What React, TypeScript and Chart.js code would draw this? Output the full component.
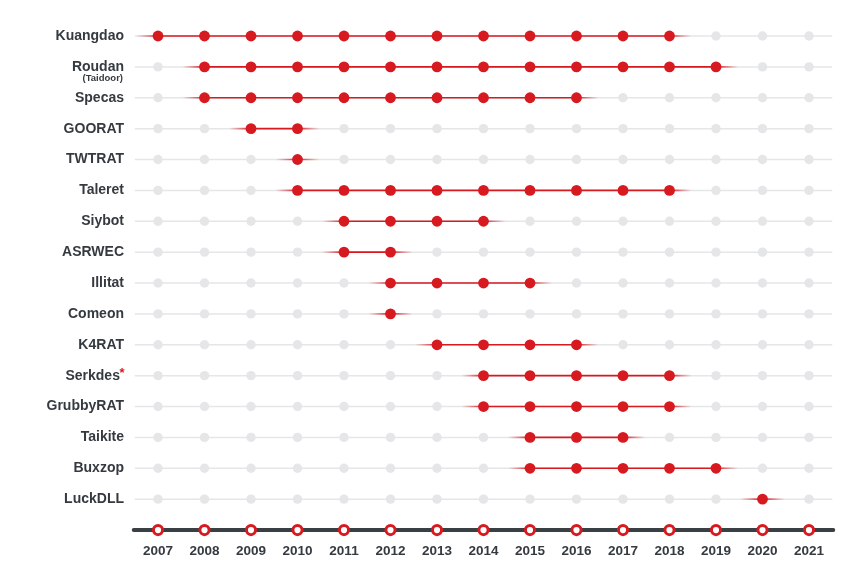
import { useEffect, useRef } from 'react';
import { Chart, registerables } from 'chart.js';

Chart.register(...registerables);

const families = ['Kuangdao', 'Roudan', 'Specas', 'GOORAT', 'TWTRAT', 'Taleret', 'Siybot', 'ASRWEC', 'Illitat', 'Comeon', 'K4RAT', 'Serkdes', 'GrubbyRAT', 'Taikite', 'Buxzop', 'LuckDLL'];
const familyNotes = ['', '(Taidoor)', '', '', '', '', '', '', '', '', '', '', '', '', '', ''];
const familyFlags = [false, false, false, false, false, false, false, false, false, false, false, true, false, false, false, false];
const years = [2007, 2008, 2009, 2010, 2011, 2012, 2013, 2014, 2015, 2016, 2017, 2018, 2019, 2020, 2021];
const activeYears: number[][] = [
  [2007, 2008, 2009, 2010, 2011, 2012, 2013, 2014, 2015, 2016, 2017, 2018],
  [2008, 2009, 2010, 2011, 2012, 2013, 2014, 2015, 2016, 2017, 2018, 2019],
  [2008, 2009, 2010, 2011, 2012, 2013, 2014, 2015, 2016],
  [2009, 2010],
  [2010],
  [2010, 2011, 2012, 2013, 2014, 2015, 2016, 2017, 2018],
  [2011, 2012, 2013, 2014],
  [2011, 2012],
  [2012, 2013, 2014, 2015],
  [2012],
  [2013, 2014, 2015, 2016],
  [2014, 2015, 2016, 2017, 2018],
  [2014, 2015, 2016, 2017, 2018],
  [2015, 2016, 2017],
  [2015, 2016, 2017, 2018, 2019],
  [2020],
];

const RED = '#d71920';
const GRAY = '#e5e6e8';
const DARK = '#353a40';
const AXIS_ROW = families.length;

export default function App() {
  const ref = useRef<HTMLCanvasElement | null>(null);

  useEffect(() => {
    if (!ref.current) return;

    const grayPts: { x: number; y: number }[] = [];
    const redPts: { x: number; y: number }[] = [];
    families.forEach((_, i) => {
      years.forEach((yr) => {
        if (activeYears[i].includes(yr)) redPts.push({ x: yr, y: i });
        else grayPts.push({ x: yr, y: i });
      });
    });
    const axisPts = years.map((yr) => ({ x: yr, y: AXIS_ROW }));

    const rowsPlugin = {
      id: 'rows',
      beforeDatasetsDraw(chart: any) {
        const { ctx, chartArea, scales } = chart;
        const xs = scales.x;
        const ys = scales.y;
        const half = (xs.getPixelForValue(years[1]) - xs.getPixelForValue(years[0])) / 2;
        ctx.save();
        families.forEach((_, i) => {
          const y = ys.getPixelForValue(i);
          ctx.strokeStyle = GRAY;
          ctx.lineWidth = 1.5;
          ctx.beginPath();
          ctx.moveTo(chartArea.left, y);
          ctx.lineTo(chartArea.right, y);
          ctx.stroke();
        });
        families.forEach((_, i) => {
          const act = activeYears[i];
          const y = ys.getPixelForValue(i);
          const x1 = xs.getPixelForValue(act[0]) - half * 0.95;
          const x2 = xs.getPixelForValue(act[act.length - 1]) + half * 0.95;
          const total = x2 - x1;
          const f = (half * 0.95) / total;
          const g = ctx.createLinearGradient(x1, 0, x2, 0);
          g.addColorStop(0, 'rgba(215,25,32,0)');
          g.addColorStop(f, 'rgba(215,25,32,1)');
          g.addColorStop(1 - f, 'rgba(215,25,32,1)');
          g.addColorStop(1, 'rgba(215,25,32,0)');
          ctx.strokeStyle = g;
          ctx.lineWidth = 1.6;
          ctx.beginPath();
          ctx.moveTo(x1, y);
          ctx.lineTo(x2, y);
          ctx.stroke();
        });
        const ay = ys.getPixelForValue(AXIS_ROW);
        ctx.strokeStyle = '#3a3f44';
        ctx.lineWidth = 4;
        ctx.lineCap = 'round';
        ctx.beginPath();
        ctx.moveTo(chartArea.left - 1, ay);
        ctx.lineTo(chartArea.right + 1, ay);
        ctx.stroke();
        ctx.restore();
      },
      afterDraw(chart: any) {
        const { ctx, scales } = chart;
        const ys = scales.y;
        const right = 124;
        ctx.save();
        ctx.textAlign = 'right';
        ctx.textBaseline = 'middle';
        families.forEach((name, i) => {
          const y = ys.getPixelForValue(i);
          ctx.fillStyle = DARK;
          ctx.font = 'bold 14px "Liberation Sans", Arial, sans-serif';
          if (familyFlags[i]) {
            ctx.font = 'bold 13px "Liberation Sans", Arial, sans-serif';
            const aw = ctx.measureText('*').width;
            ctx.fillStyle = RED;
            ctx.fillText('*', right + 0.5, y - 2);
            ctx.font = 'bold 14px "Liberation Sans", Arial, sans-serif';
            ctx.fillStyle = DARK;
            ctx.fillText(name, right - aw + 1, y);
          } else {
            ctx.fillText(name, right, y);
          }
          if (familyNotes[i]) {
            ctx.font = 'bold 9.5px "Liberation Sans", Arial, sans-serif';
            ctx.fillText(familyNotes[i], right - 1, y + 11.5);
          }
        });
        ctx.restore();
      },
    };

    const chart = new Chart(ref.current, {
      type: 'scatter',
      data: {
        datasets: [
          {
            data: redPts,
            pointRadius: 5.4,
            pointHoverRadius: 5.4,
            pointBackgroundColor: RED,
            pointBorderWidth: 0,
            showLine: false,
          },
          {
            data: grayPts,
            pointRadius: 4.7,
            pointHoverRadius: 4.7,
            pointBackgroundColor: GRAY,
            pointBorderWidth: 0,
            showLine: false,
          },
          {
            data: axisPts,
            pointRadius: 4.6,
            pointHoverRadius: 4.6,
            pointBackgroundColor: '#ffffff',
            pointBorderColor: RED,
            pointBorderWidth: 3,
            showLine: false,
          },
        ],
      },
      options: {
        responsive: false,
        animation: false,
        events: [],
        layout: { padding: { left: 134.75, right: 25.75, top: 14.4, bottom: 4.5 } },
        plugins: { legend: { display: false }, tooltip: { enabled: false } },
        scales: {
          x: {
            type: 'linear',
            min: 2006.5,
            max: 2021.5,
            grid: { display: false, drawTicks: false },
            border: { display: false },
            afterBuildTicks: (s: any) => {
              s.ticks = years.map((v) => ({ value: v }));
            },
            ticks: {
              padding: 4,
              color: DARK,
              font: { family: '"Liberation Sans", Arial, sans-serif', size: 13.5, weight: 'bold' },
              callback: (v: any) => String(v),
            },
          },
          y: {
            type: 'linear',
            display: false,
            reverse: true,
            min: -0.7,
            max: AXIS_ROW + 0.3,
          },
        },
      },
      plugins: [rowsPlugin],
    } as any);

    return () => chart.destroy();
  }, []);

  return (
    <div style={{ position: 'absolute', left: 0, top: 0, width: 858, height: 568, background: '#fff' }}>
      <canvas ref={ref} width={858} height={568} />
    </div>
  );
}
